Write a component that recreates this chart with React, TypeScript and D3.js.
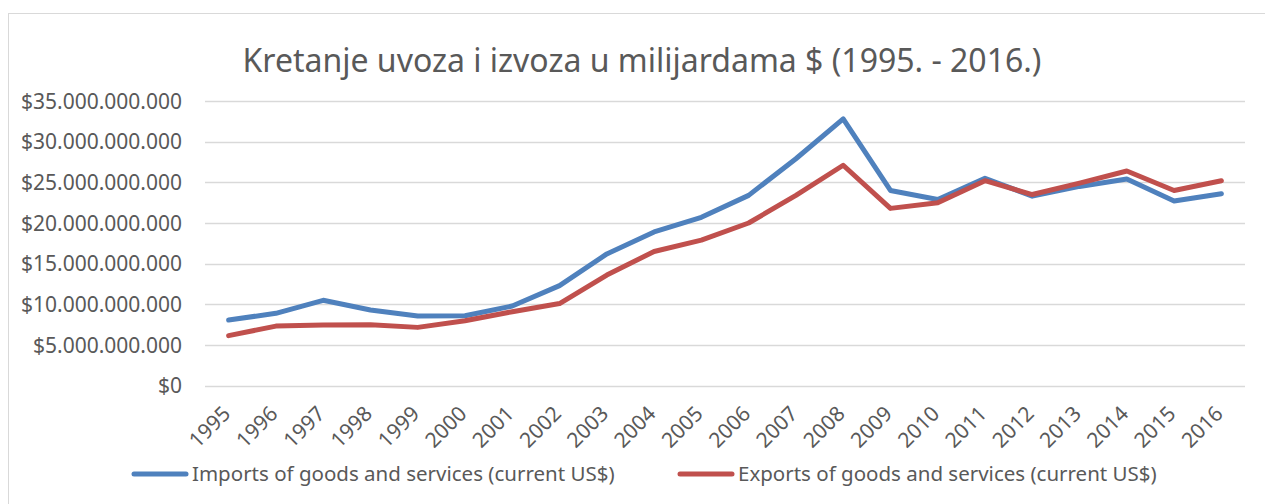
import { useEffect, useRef } from "react";
import * as d3 from "d3";

const years = [
  "1995", "1996", "1997", "1998", "1999", "2000", "2001", "2002", "2003", "2004", "2005",
  "2006", "2007", "2008", "2009", "2010", "2011", "2012", "2013", "2014", "2015", "2016",
];

// values in billions of US$
const imports = [
  8.07, 8.9, 10.5, 9.3, 8.56, 8.6, 9.8, 12.3, 16.2, 18.9, 20.7,
  23.4, 27.9, 32.8, 24.0, 22.9, 25.5, 23.3, 24.5, 25.4, 22.7, 23.6,
];
const exports = [
  6.15, 7.33, 7.46, 7.5, 7.17, 7.99, 9.1, 10.1, 13.6, 16.5, 17.9,
  20.0, 23.4, 27.1, 21.8, 22.5, 25.2, 23.5, 24.9, 26.4, 24.0, 25.2,
];
const yTicks = [0, 5, 10, 15, 20, 25, 30, 35];

const seriesNames = [
  "Imports of goods and services (current US$)",
  "Exports of goods and services (current US$)",
];
const colors = ["#4F81BD", "#C0504D"];

const title = "Kretanje uvoza i izvoza u milijardama $ (1995. - 2016.)";

export default function App() {
  const ref = useRef<SVGSVGElement | null>(null);

  useEffect(() => {
    const width = 1265;
    const height = 504;
    const margin = { top: 101, right: 20, bottom: 118, left: 205 };
    const font = "'Noto Sans', sans-serif";
    const textColor = "#595959";

    const svg = d3.select(ref.current);
    svg.selectAll("*").remove();

    svg
      .append("rect")
      .attr("x", 8.5)
      .attr("y", 13.5)
      .attr("width", 1300)
      .attr("height", 600)
      .attr("fill", "#fff")
      .attr("stroke", "#D9D9D9");

    const x = d3
      .scalePoint<string>()
      .domain(years)
      .range([margin.left, width - margin.right])
      .padding(0.5);

    const y = d3
      .scaleLinear()
      .domain([0, 35])
      .range([height - margin.bottom - 0.3, margin.top]);

    const locale = d3.formatLocale({
      decimal: ",",
      thousands: ".",
      grouping: [3],
      currency: ["$", ""],
    });
    const fmt = locale.format("$,.0f");

    // gridlines
    svg
      .append("g")
      .selectAll("line")
      .data(yTicks)
      .join("line")
      .attr("x1", margin.left)
      .attr("x2", width - margin.right)
      .attr("y1", (d) => Math.round(y(d)) + 0.5)
      .attr("y2", (d) => Math.round(y(d)) + 0.5)
      .attr("stroke", "#D9D9D9")
      .attr("stroke-width", 1.3);

    // y labels
    svg
      .append("g")
      .selectAll("text")
      .data(yTicks)
      .join("text")
      .attr("x", 182)
      .attr("y", (d) => y(d))
      .attr("dy", "0.36em")
      .attr("text-anchor", "end")
      .attr("font-family", font)
      .attr("font-size", 21)
      .attr("fill", textColor)
      .text((d) => fmt(d * 1e9));

    // x labels
    svg
      .append("g")
      .selectAll("text")
      .data(years)
      .join("text")
      .attr("transform", (d) => `translate(${(x(d) ?? 0) + 3},${415}) rotate(-45)`)
      .attr("text-anchor", "end")
      .attr("font-family", font)
      .attr("font-size", 21)
      .attr("fill", textColor)
      .text((d) => d);

    const line = d3
      .line<number>()
      .x((_, i) => x(years[i]) ?? 0)
      .y((d) => y(d));

    [imports, exports].forEach((values, i) => {
      svg
        .append("path")
        .datum(values)
        .attr("fill", "none")
        .attr("stroke", colors[i])
        .attr("stroke-width", 5)
        .attr("stroke-linejoin", "round")
        .attr("stroke-linecap", "round")
        .attr("d", line);
    });

    // title
    svg
      .append("text")
      .attr("x", 642)
      .attr("y", 72)
      .attr("text-anchor", "middle")
      .attr("font-family", font)
      .attr("font-size", 32)
      .attr("fill", textColor)
      .text(title);

    // legend
    const legendX = [132, 678];
    seriesNames.forEach((name, i) => {
      const g = svg.append("g").attr("transform", `translate(${legendX[i]},474)`);
      g.append("line")
        .attr("x1", 2)
        .attr("x2", 54)
        .attr("stroke", colors[i])
        .attr("stroke-width", 5)
        .attr("stroke-linecap", "round");
      g.append("text")
        .attr("x", 60)
        .attr("dy", "0.36em")
        .attr("font-family", font)
        .attr("font-size", 20.5)
        .attr("fill", textColor)
        .text(name);
    });
  }, []);

  return (
    <svg
      ref={ref}
      width={1265}
      height={504}
      style={{ position: "fixed", left: 0, top: 0, background: "#fff" }}
    />
  );
}
